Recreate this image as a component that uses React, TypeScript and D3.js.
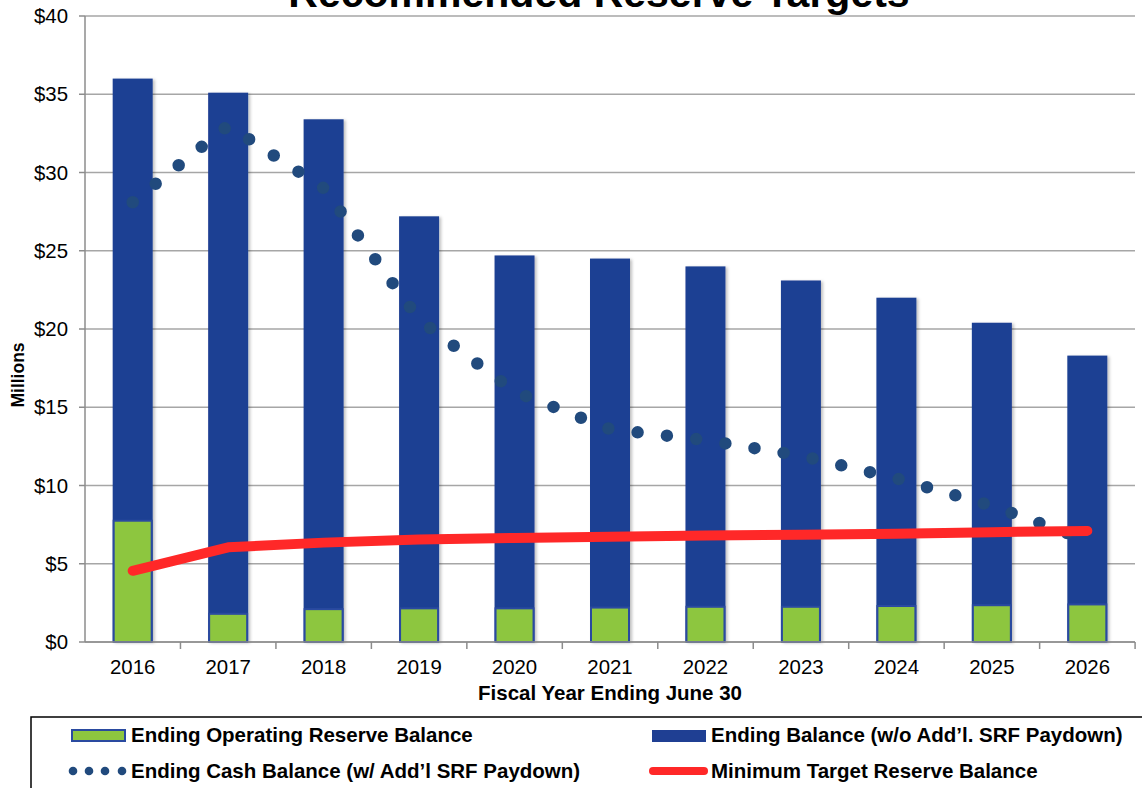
import React from "react";
import * as d3 from "d3";

const years = ["2016", "2017", "2018", "2019", "2020", "2021", "2022", "2023", "2024", "2025", "2026"];
const endingBalance = [36.0, 35.1, 33.4, 27.2, 24.7, 24.5, 24.0, 23.1, 22.0, 20.4, 18.3];
const operatingReserve = [7.75, 1.8, 2.1, 2.15, 2.15, 2.2, 2.25, 2.25, 2.3, 2.35, 2.4];
const cashBalance = [28.1, 33.0, 29.0, 20.6, 16.0, 13.6, 12.9, 11.9, 10.45, 8.7, 6.5];
const minTarget = [4.55, 6.05, 6.35, 6.55, 6.65, 6.72, 6.8, 6.86, 6.92, 7.02, 7.1];
const yTicks = [0, 5, 10, 15, 20, 25, 30, 35, 40];

const FONT = "'Liberation Sans', Arial, sans-serif";

export default function App() {
  const left = 85, right = 1135, top = 16, bottom = 642;
  const x = d3.scaleBand<string>().domain(years).range([left, right]).paddingInner(0.581).paddingOuter(0.29);
  const y = d3.scaleLinear().domain([0, 40]).range([bottom, top]);
  const bw = x.bandwidth();
  const cx = (yr: string) => (x(yr) as number) + bw / 2;
  const step = x.step();

  const lineGen = d3.line<number>().x((_, i) => cx(years[i])).y((v) => y(v));
  const cashPath = lineGen(cashBalance) as string;
  const minPath = lineGen(minTarget) as string;

  const boundaries = d3.range(1, years.length + 1).map((i) => left + i * step);

  return (
    <svg width={1142} height={788} style={{ position: "absolute", left: 0, top: 0, background: "#fff" }} fontFamily={FONT}>
      <defs>
        <filter id="shadow" x="-20%" y="-5%" width="150%" height="110%">
          <feDropShadow dx="2" dy="1" stdDeviation="1.5" floodColor="#000" floodOpacity="0.25" />
        </filter>
      </defs>
      {/* title (cut off at the top as in the original) */}
      <text x={599} y={7} textAnchor="middle" fontSize={41} fontWeight="bold" fill="#000">
        Recommended Reserve Targets
      </text>

      {/* gridlines */}
      {yTicks.map((t) => (
        <line key={"g" + t} x1={left} x2={right} y1={y(t)} y2={y(t)} stroke="#a6a6a6" strokeWidth={1.5} />
      ))}
      {/* y axis */}
      <line x1={left} x2={left} y1={top} y2={bottom} stroke="#8c8c8c" strokeWidth={1.5} />
      {yTicks.map((t) => (
        <g key={"yt" + t}>
          <line x1={left - 6} x2={left} y1={y(t)} y2={y(t)} stroke="#8c8c8c" strokeWidth={1.5} />
          <text x={68} y={y(t)} dy="0.35em" textAnchor="end" fontSize={20.4} fill="#000">
            {"$" + t}
          </text>
        </g>
      ))}
      <text transform={`translate(24,375) rotate(-90)`} textAnchor="middle" fontSize={17.5} fontWeight="bold" fill="#000">
        Millions
      </text>

      {/* bars */}
      {years.map((yr, i) => (
        <rect key={"b" + yr} x={x(yr)} y={y(endingBalance[i])} width={bw} height={bottom - y(endingBalance[i])} fill="#1f3f93" filter="url(#shadow)" />
      ))}
      {years.map((yr, i) => (
        <rect key={"o" + yr} x={(x(yr) as number) + 1} y={y(operatingReserve[i])} width={bw - 2} height={bottom - y(operatingReserve[i])} fill="#8dc63f" stroke="#2a4aa0" strokeWidth={2} />
      ))}

      {/* x axis */}
      <line x1={left} x2={right} y1={bottom} y2={bottom} stroke="#8c8c8c" strokeWidth={1.5} />
      {boundaries.map((b, i) => (
        <line key={"xt" + i} x1={b} x2={b} y1={bottom} y2={bottom + 7} stroke="#8c8c8c" strokeWidth={1.5} />
      ))}
      {years.map((yr) => (
        <text key={"xl" + yr} x={cx(yr)} y={674} textAnchor="middle" fontSize={20.4} fill="#000">
          {yr}
        </text>
      ))}
      <text x={610} y={700} textAnchor="middle" fontSize={20.5} fontWeight="bold" fill="#000">
        Fiscal Year Ending June 30
      </text>

      {/* cash balance dotted line */}
      <path d={cashPath} fill="none" stroke="#214a7d" strokeWidth={12.5} strokeLinecap="round" strokeDasharray="0 29.5" />
      {/* min target line */}
      <path d={minPath} fill="none" stroke="#ff2828" strokeWidth={10} strokeLinecap="round" strokeLinejoin="round" />

      {/* legend */}
      <rect x={31} y={717} width={1130} height={90} fill="#fff" stroke="#000" strokeWidth={1.5} />
      <rect x={72} y={730} width={53} height={11} fill="#8dc63f" stroke="#2a4aa0" strokeWidth={2} />
      <text x={131} y={742} fontSize={20.5} fontWeight="bold" fill="#000">Ending Operating Reserve Balance</text>
      <rect x={652} y={730} width={54} height={12} fill="#1f3f93" />
      <text x={711} y={742} fontSize={20.5} fontWeight="bold" fill="#000">Ending Balance (w/o Add’l. SRF Paydown)</text>
      {[73, 89, 105, 122].map((dx) => (
        <circle key={"ld" + dx} cx={dx} cy={771} r={4.3} fill="#214a7d" />
      ))}
      <text x={131} y={778} fontSize={20.5} fontWeight="bold" fill="#000">Ending Cash Balance (w/ Add’l SRF Paydown)</text>
      <line x1={653} x2={704} y1={771} y2={771} stroke="#ff2828" strokeWidth={8} strokeLinecap="round" />
      <text x={711} y={778} fontSize={20.5} fontWeight="bold" fill="#000">Minimum Target Reserve Balance</text>
    </svg>
  );
}
